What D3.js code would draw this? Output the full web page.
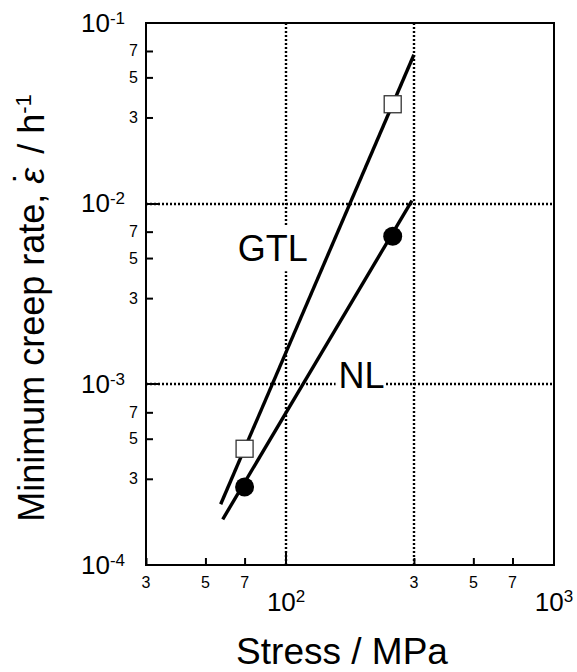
<!DOCTYPE html>
<html>
<head>
<meta charset="utf-8">
<script src="https://cdn.jsdelivr.net/npm/d3@7"></script>
<style>
  html, body { margin: 0; padding: 0; background: #fff; }
  svg { display: block; font-family: "Liberation Sans", Arial, Helvetica, sans-serif; }
</style>
</head>
<body>
<svg id="chart" width="577" height="672"></svg>
<script>
// Minimum creep rate vs. stress (log-log)
const stressMinorTicks = [30, 50, 70, 300, 500, 700];
const stressMinorLabels = ["3", "5", "7", "3", "5", "7"];
const stressMajorTicks = [100, 1000];
const stressMajorExp = ["2", "3"];

const rateMinorTicks = [3e-4, 5e-4, 7e-4, 3e-3, 5e-3, 7e-3, 3e-2, 5e-2, 7e-2];
const rateMinorLabels = ["3", "5", "7", "3", "5", "7", "3", "5", "7"];
const rateMajorTicks = [1e-4, 1e-3, 1e-2, 1e-1];
const rateMajorExp = ["-4", "-3", "-2", "-1"];

const gridStress = [100, 300];
const gridRate = [1e-3, 1e-2];

// measured points
const stressPoints = [70, 250];
const gtlRate = [4.4e-4, 3.55e-2];
const nlRate = [2.7e-4, 6.6e-3];

// fitted power-law lines (end points)
const gtlFitStress = [57, 300];
const gtlFitRate = [2.17e-4, 6.67e-2];
const nlFitStress = [58, 295];
const nlFitRate = [1.79e-4, 1.04e-2];

// series labels
const seriesNames = ["GTL", "NL"];
const labelStress = [66, 157];
const labelRate = [4.8e-3, 9.6e-4];

const svg = d3.select("#chart");
const x = d3.scaleLog().domain([30, 1000]).range([146, 554]);
const y = d3.scaleLog().domain([1e-4, 1e-1]).range([565, 23]);
const [x0, x1] = x.range();
const [y0, y1] = y.range();
const snap = v => Math.round(v);

// dotted grid
const grid = svg.append("g").attr("stroke", "#000").attr("stroke-width", 2.4)
  .attr("stroke-dasharray", "2,2");
grid.selectAll("line.v").data(gridStress).join("line").attr("class", "v")
  .attr("x1", d => snap(x(d))).attr("x2", d => snap(x(d))).attr("y1", y1).attr("y2", y0);
grid.selectAll("line.h").data(gridRate).join("line").attr("class", "h")
  .attr("x1", x0).attr("x2", x1).attr("y1", d => snap(y(d))).attr("y2", d => snap(y(d)));

// series labels with white backing
const labels = svg.append("g");
seriesNames.forEach((name, i) => {
  const g = labels.append("g");
  const t = g.append("text")
    .attr("x", x(labelStress[i])).attr("y", y(labelRate[i]))
    .style("font-size", "36px").attr("fill", "#000").text(name);
  const b = t.node().getBBox();
  g.insert("rect", "text")
    .attr("x", b.x - 3).attr("y", b.y - 2).attr("width", b.width + 4).attr("height", b.height + 4)
    .attr("fill", "#fff");
});

// fit lines
const line = d3.line().x(d => x(d[0])).y(d => y(d[1]));
svg.append("path").datum(d3.zip(gtlFitStress, gtlFitRate)).attr("d", line)
  .attr("fill", "none").attr("stroke", "#000").attr("stroke-width", 3.4);
svg.append("path").datum(d3.zip(nlFitStress, nlFitRate)).attr("d", line)
  .attr("fill", "none").attr("stroke", "#000").attr("stroke-width", 3.4);

// markers
const sq = 17;
svg.selectAll("rect.gtl").data(d3.zip(stressPoints, gtlRate)).join("rect").attr("class", "gtl")
  .attr("x", d => x(d[0]) - sq / 2).attr("y", d => y(d[1]) - sq / 2)
  .attr("width", sq).attr("height", sq)
  .attr("fill", "#fff").attr("stroke", "#333").attr("stroke-width", 1.3);
svg.selectAll("circle.nl").data(d3.zip(stressPoints, nlRate)).join("circle").attr("class", "nl")
  .attr("cx", d => x(d[0])).attr("cy", d => y(d[1])).attr("r", 9.5).attr("fill", "#000");

// minor tick marks (inward) from the d3 axes, labels drawn separately
const gx = svg.append("g").attr("transform", `translate(0,${y0})`)
  .call(d3.axisBottom(x).tickValues(stressMinorTicks).tickSizeInner(-7).tickSizeOuter(0).tickFormat(""));
gx.select(".domain").remove();
gx.selectAll(".tick line").attr("stroke-width", 2);

const gy = svg.append("g").attr("transform", `translate(${x0},0)`)
  .call(d3.axisLeft(y).tickValues(rateMinorTicks).tickSizeInner(-7).tickSizeOuter(0).tickFormat(""));
gy.select(".domain").remove();
gy.selectAll(".tick line").attr("stroke-width", 2);

svg.append("g").selectAll("text").data(stressMinorTicks).join("text")
  .attr("x", d => x(d)).attr("y", y0 + 23).attr("text-anchor", "middle")
  .style("font-size", "16px").text((d, i) => stressMinorLabels[i]);
svg.append("g").selectAll("text").data(rateMinorTicks).join("text")
  .attr("x", x0 - 8).attr("y", d => y(d) + 5.5).attr("text-anchor", "end")
  .style("font-size", "16px").text((d, i) => rateMinorLabels[i]);

// major ticks
svg.append("g").selectAll("line").data(stressMajorTicks).join("line")
  .attr("x1", d => snap(x(d))).attr("x2", d => snap(x(d))).attr("y1", y0).attr("y2", y0 - 13)
  .attr("stroke", "#000").attr("stroke-width", 2);
svg.append("g").selectAll("line").data(rateMajorTicks).join("line")
  .attr("x1", x0).attr("x2", x0 + 13).attr("y1", d => snap(y(d))).attr("y2", d => snap(y(d)))
  .attr("stroke", "#000").attr("stroke-width", 2);

// major labels with exponents
const xMaj = svg.append("g").selectAll("text").data(stressMajorTicks).join("text")
  .attr("x", d => x(d)).attr("y", y0 + 46).attr("text-anchor", "middle").style("font-size", "26px");
xMaj.append("tspan").text("10");
xMaj.append("tspan").style("font-size", "17px").attr("dy", -9).text((d, i) => stressMajorExp[i]);

const yMaj = svg.append("g").selectAll("text").data(rateMajorTicks).join("text")
  .attr("x", x0 - 21).attr("y", d => y(d) + 8.5).attr("text-anchor", "end").style("font-size", "26px");
yMaj.append("tspan").text("10");
yMaj.append("tspan").style("font-size", "17px").attr("dy", -8).text((d, i) => rateMajorExp[i]);

// frame
svg.append("rect").attr("x", x0).attr("y", y1).attr("width", x1 - x0).attr("height", y0 - y1)
  .attr("fill", "none").attr("stroke", "#000").attr("stroke-width", 2);

// axis titles
svg.append("text").attr("x", 342).attr("y", 664).attr("text-anchor", "middle")
  .style("font-size", "37px").text("Stress / MPa");

const yt = svg.append("text").attr("transform", "translate(44,308) rotate(-90)")
  .attr("text-anchor", "middle").style("font-size", "36px");
yt.append("tspan").text("Minimum creep rate, ");
yt.append("tspan").attr("font-style", "italic").text("\u03B5");
yt.append("tspan").attr("dx", "-0.42em").attr("dy", "-0.12em").text("\u02D9");
yt.append("tspan").attr("dx", "0.2em").attr("dy", "0.12em").text(" / h");
yt.append("tspan").style("font-size", "22px").attr("dy", -13).text("-1");
</script>
</body>
</html>
